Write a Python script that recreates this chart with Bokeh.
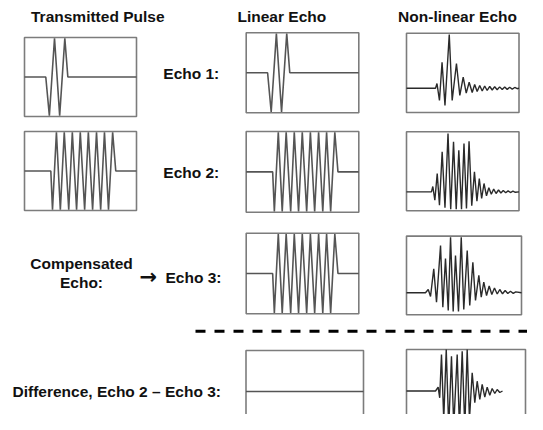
import numpy as np
from bokeh.plotting import figure
from bokeh.models import Range1d
from bokeh.core.properties import value
from bokeh.embed import file_html
from bokeh.resources import INLINE

# ---------------- data (time in % of window, amplitude in % of full scale) ----
pulse1_t = [0, 19.0, 22.2, 26.8, 31.4, 36.0, 38.7, 100]
pulse1_a = [0, 0, -98, 98, -98, 98, 0, 0]

pulse2_t = [0, 23.5, 25.0, 28.5, 32.0, 35.5, 39.5, 42.7, 46.5, 49.8, 53.7, 57.0,
            60.8, 64.3, 68.0, 71.4, 75.0, 78.7, 81.5, 100]
pulse2_a = [0, 0, -98, 98, -98, 98, -98, 98, -98, 98, -98, 98,
            -98, 98, -98, 98, -98, 98, 0, 0]

flat_t = [0, 100]
flat_a = [0, 0]

nl1_t = [0, 25.8, 27.1, 29.3, 31.6, 34.2, 38.0, 40.6, 44.4, 47.4, 50.4, 53.1, 55.7,
         58.4, 60.6, 62.8, 65.1, 67.3, 69.5, 71.7, 74.0, 76.2, 78.4, 80.6, 82.8,
         85.1, 87.3, 89.5, 91.7, 94.0, 96.2, 98.4, 100]
nl1_a = [-38.7, -38.7, -26.9, -69.7, 26.9, -82.3, 96.7, -69.7, 23.6, -57.1, -11.0,
         -51.3, -23.6, -49.6, -29.4, -47.0, -31.9, -45.8, -33.1, -44.5, -34.4,
         -43.3, -34.9, -42.7, -35.4, -42.2, -35.9, -41.7, -36.4, -41.2, -36.9,
         -40.0, -38.7]

nl2_t = [0, 22.2, 23.4, 25.2, 27.3, 29.3, 31.7, 34.2, 36.9, 39.3, 41.8, 44.2, 46.5,
         48.9, 51.1, 53.3, 55.6, 58.0, 60.4, 62.6, 64.7, 66.8, 68.9, 71.1, 73.2,
         75.4, 77.5, 79.6, 81.8, 83.9, 86.0, 88.2, 90.3, 92.4, 94.6, 96.7, 100]
nl2_a = [-52, -52, -38.5, -73.2, -5.6, -85.8, 49.4, -92.4, 95.7, -96, 74.7, -96,
         53.4, -96, 70.4, -94.2, 76.2, -87.3, -1.3, -75.7, -18.2, -68.9, -30.9,
         -62, -41.8, -58, -44.8, -56.2, -47.3, -54.9, -48.6, -54.2, -49.6, -53.7,
         -50.4, -53.2, -52]

nl3_t = [0, 16.5, 18.9, 20.9, 23.7, 26.1, 29.6, 31.6, 33.9, 36.3, 38.3, 40.6, 42.6,
         45.2, 47.6, 49.8, 52.8, 55.0, 57.7, 60.0, 62.9, 65.0, 67.2, 69.6, 71.9,
         74.2, 76.5, 78.9, 81.1, 83.5, 85.8, 88.1, 90.4, 92.8, 95.0, 100]
nl3_a = [-44.1, -44.1, -35.7, -53.5, 16.9, -68, 76.1, -80.7, 43.1, -89.1, 97.2,
         -91.6, 50.7, -91.6, 97.2, -86.5, 63.4, -76.4, 33.7, -63.7, 0, -55.3,
         -17.2, -51, -26.8, -48.4, -31.9, -47.1, -35.7, -46.6, -38.1, -45.9,
         -40.3, -45.4, -41.6, -44.1]

nl4_t = [0, 24.4, 26.6, 27.9, 29.4, 31.3, 33.4, 35.5, 37.8, 39.7, 42.6, 44.5, 46.8,
         49.0, 51.0, 52.9, 55.2, 57.4, 59.4, 61.6, 63.6, 65.8, 67.8, 70.0, 72.0,
         74.2, 76.2, 78.4, 80.7]
nl4_a = [0, 0, 9.2, -16.4, 88, -68.7, 100, -88.7, 83.9, -84.8, 88, -88.7, 95.9,
         -88.7, 100, -68.7, 43.9, -28.4, 23.6, -20.5, 15.7, -14.9, 9.2, -10.1, 6,
         -6, 3.6, -3.6, 0]

headers = ["Transmitted Pulse", "Linear Echo", "Non-linear Echo"]
row_labels = ["Echo 1:", "Echo 2:", "Echo 3:", "Difference, Echo 2 \u2013 Echo 3:"]
comp_labels = ["Compensated", "Echo:"]
arrow_label = "\u2192"

# ---------------- layout (pixel coordinates of the picture) ----------------
# (left, right, top, bottom, times, amps, line colour, line width)
lin_col, nl_col = "#555555", "#2a2a2a"
panels = [
    (24, 136, 37, 116, pulse1_t, pulse1_a, lin_col, 1.6),
    (24, 136, 131, 210, pulse2_t, pulse2_a, lin_col, 1.6),
    (245.7, 358.3, 32.3, 112.3, pulse1_t, pulse1_a, lin_col, 1.6),
    (245.7, 358.3, 131, 211.7, pulse2_t, pulse2_a, lin_col, 1.6),
    (245.7, 358.3, 232.7, 313.3, pulse2_t, pulse2_a, lin_col, 1.6),
    (245.5, 363, 350, 432, flat_t, flat_a, lin_col, 1.4),
    (406, 518.5, 32.7, 112, nl1_t, nl1_a, nl_col, 1.4),
    (406, 518.5, 131.3, 210.3, nl2_t, nl2_a, nl_col, 1.4),
    (406, 521, 235.6, 314.3, nl3_t, nl3_a, nl_col, 1.4),
    (406, 525, 349, 432, nl4_t, nl4_a, nl_col, 1.4),
]

W, H = 527, 414
p = figure(width=W, height=H, x_range=Range1d(0, W), y_range=Range1d(H, 0),
           output_backend="svg", toolbar_location=None, min_border=0,
           x_axis_location=None, y_axis_location=None)
p.grid.visible = False
p.outline_line_color = None
p.background_fill_color = "white"
p.border_fill_color = "white"

for (l, r, t, b, tt, aa, col, lw) in panels:
    p.quad(left=[l], right=[r], top=[t], bottom=[b], fill_color=None,
           line_color="#7c7c7c", line_width=1.6)
    cy = (t + b) / 2.0
    hh = (b - t) / 2.0
    xs = l + np.array(tt) / 100.0 * (r - l)
    ys = cy - np.array(aa) / 100.0 * hh
    p.line(xs, ys, line_color=col, line_width=lw)

# dashed separator
p.line([195, 545], [330.7, 330.7], line_color="black", line_width=3, line_dash="10 9")

font = value("Liberation Sans")
common = dict(text_font=font, text_font_style="bold", text_font_size="15.5px",
              text_color="#111111", text_baseline="middle")

p.text(x=[30.5, 237, 397.6], y=[15.6, 15.6, 15.6], text=headers, text_align="left", **common)
p.text(x=[162.8, 162.8, 165, 12], y=[72.7, 171.6, 276.7, 391], text=row_labels,
       text_align="left", **common)
p.text(x=[81, 81], y=[262.7, 281.7], text=comp_labels, text_align="center", **common)
p.text(x=[139], y=[276.7], text=[arrow_label], text_align="left",
       text_font=value("DejaVu Sans"), text_font_style="bold", text_font_size="21px",
       text_color="#111111", text_baseline="middle")

open("out.html", "w").write(file_html(p, INLINE))
